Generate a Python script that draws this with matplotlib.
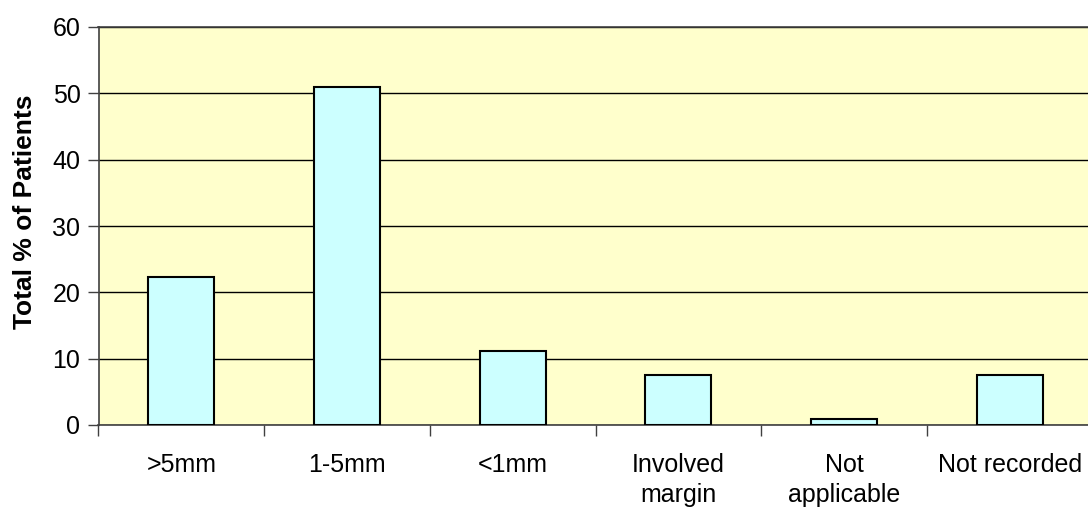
import matplotlib

matplotlib.use("Agg")
import matplotlib.pyplot as plt  # noqa: E402
import numpy as np  # noqa: E402

categories = [">5mm", "1-5mm", "<1mm", "Involved\nmargin", "Not\napplicable", "Not recorded"]
percent_patients = [22.3, 51.0, 11.2, 7.5, 0.9, 7.5]
y_ticks = [0, 10, 20, 30, 40, 50, 60]

plt.rcParams["font.family"] = ["Liberation Sans", "DejaVu Sans"]

fig = plt.figure(figsize=(10.88, 5.09), dpi=100)
ax = fig.add_axes([98.5 / 1088, 84 / 509, 994 / 1088, 398 / 509])
ax.set_facecolor("#FFFFCC")

x = np.arange(len(categories))
ax.bar(x, percent_patients, width=0.4, color="#CCFFFF", edgecolor="black",
       linewidth=1.5, zorder=3)

ax.set_xlim(-0.5, len(categories) - 0.5)
ax.set_ylim(0, 60)
ax.set_yticks(y_ticks)
ax.yaxis.grid(True, color="black", linewidth=1.0, zorder=1)

# labels centred under the bars, tick marks on the category boundaries
ax.set_xticks(x)
ax.set_xticklabels(categories, fontsize=18, linespacing=1.35, va="top")
ax.set_xticks(np.arange(-0.5, len(categories)), minor=True)
ax.tick_params(axis="x", which="major", length=0, pad=20)
ax.tick_params(axis="x", which="minor", length=8, width=1, color="#404040",
               direction="out")
ax.tick_params(axis="y", length=8, width=1, color="#404040", labelsize=18,
               pad=5)

for side in ("left", "top", "bottom"):
    ax.spines[side].set_color("#404040")
    ax.spines[side].set_linewidth(1.2)
ax.spines["right"].set_visible(False)

ax.set_ylabel("Total % of Patients", fontsize=19, fontweight="bold")
ax.yaxis.set_label_coords(-0.062, 0.535)

fig.savefig("out.png", dpi=100)
